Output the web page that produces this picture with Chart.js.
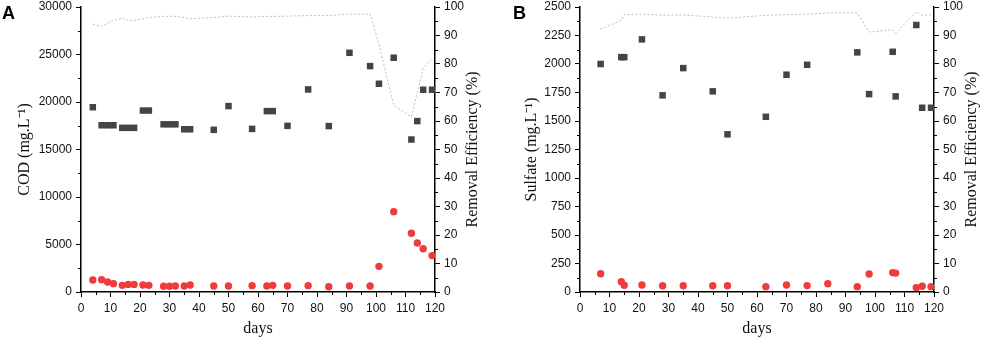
<!DOCTYPE html>
<html>
<head>
<meta charset="utf-8">
<script src="https://cdn.jsdelivr.net/npm/chart.js@4.4.1/dist/chart.umd.min.js"></script>
<style>
  html, body { margin: 0; padding: 0; background: #fff; }
  #wrap { position: relative; width: 982px; height: 339px; }
  canvas { position: absolute; top: 0; }
</style>
</head>
<body>
<div id="wrap">
  <canvas id="chartA" width="491" height="339" style="left:0"></canvas>
  <canvas id="chartB" width="491" height="339" style="left:491px"></canvas>
</div>
<script>
// Panel A: COD
const codDays = [4, 7, 9, 11, 14, 16, 18, 21, 23, 28, 30, 32, 35, 37, 45, 50, 58, 63, 65, 70, 77, 84, 91, 98, 101, 106, 112, 114, 116, 119];
const codIn = [19450, 17550, 17550, 17550, 17280, 17280, 17280, 19100, 19100, 17650, 17650, 17650, 17130, 17130, 17070, 19570, 17170, 19040, 19040, 17490, 21320, 17460, 25180, 23780, 21920, 24660, 16050, 17990, 21290, 21290];
const codOut = [1260, 1300, 1050, 880, 700, 800, 800, 740, 700, 600, 600, 630, 630, 740, 630, 630, 670, 630, 700, 630, 670, 560, 630, 630, 2700, 8460, 6180, 5160, 4560, 3830];
const codEff = [94.0, 93.2, 94.3, 95.3, 96.1, 95.3, 95.3, 95.8, 96.3, 96.7, 96.8, 96.7, 96.3, 95.9, 96.3, 96.8, 96.5, 96.7, 96.7, 96.8, 97.0, 97.0, 97.5, 97.5, 87, 65.5, 61.5, 70, 78.5, 82];

// Panel B: sulfate
const sulInDays = [7, 14, 15, 21, 28, 35, 45, 50, 63, 70, 77, 94, 98, 106, 107, 114, 116, 119];
const sulIn = [2000, 2060, 2060, 2216, 1725, 1964, 1760, 1383, 1537, 1906, 1993, 2102, 1736, 2107, 1716, 2342, 1616, 1616];
const sulOutDays = [7, 14, 15, 21, 28, 35, 45, 50, 63, 70, 77, 84, 94, 98, 106, 107, 114, 116, 119];
const sulOut = [160, 90, 59, 61, 55, 55, 55, 55, 47, 61, 56, 73, 47, 158, 170, 166, 38, 50, 47];
const sulEff = [92.3, 95.3, 97.3, 97.5, 97.1, 97.2, 96.5, 96.1, 97.1, 97.3, 97.5, 97.9, 97.9, 91.2, 92.0, 90.8, 98.3, 97.1, 97.3];

const xTicks = { min: 0, max: 120, step: 10 };
const effTicks = { min: 0, max: 100, step: 10 };

const tickFont = { family: '"Liberation Sans", Arial, sans-serif', size: 12 };
// vertical axes: small line height so the plot box starts near the top edge
const yTickFont = { family: '"Liberation Sans", Arial, sans-serif', size: 12, lineHeight: 0.5 };
const titleFont = { family: '"Liberation Serif", "Times New Roman", serif', size: 16 };

function pts(xs, ys) {
    return xs.map((x, i) => ({ x: x, y: ys[i] }));
}

// short minor ticks half way between the labelled ones
const minorTicks = {
    id: 'minorTicks',
    afterDraw(chart) {
        const ctx = chart.ctx;
        ctx.save();
        ctx.strokeStyle = '#000';
        ctx.lineWidth = 1;
        Object.values(chart.scales).forEach(s => {
            const step = s.options.ticks.stepSize;
            if (!step) return;
            ctx.beginPath();
            for (let v = s.min + step / 2; v < s.max; v += step) {
                const p = Math.round(s.getPixelForValue(v)) + 0.5;
                if (s.axis === 'x') {
                    ctx.moveTo(p, s.top); ctx.lineTo(p, s.top + 3);
                } else if (s.position === 'left') {
                    ctx.moveTo(s.right, p); ctx.lineTo(s.right - 3, p);
                } else {
                    ctx.moveTo(s.left, p); ctx.lineTo(s.left + 3, p);
                }
            }
            ctx.stroke();
        });
        ctx.restore();
    }
};

// right axis title (reads bottom to top) and the panel letter
const extraText = {
    id: 'extraText',
    afterDraw(chart, args, opts) {
        const ctx = chart.ctx;
        const r = chart.scales.y1;
        ctx.save();
        ctx.fillStyle = '#111';
        ctx.font = '16px "Liberation Serif", "Times New Roman", serif';
        ctx.textAlign = 'center';
        ctx.textBaseline = 'middle';
        ctx.translate(r.left + 38, (r.top + r.bottom) / 2);
        ctx.rotate(-Math.PI / 2);
        ctx.fillText('Removal Efficiency (%)', 0, 0);
        ctx.restore();
        ctx.save();
        ctx.fillStyle = '#000';
        ctx.font = 'bold 18px "Liberation Sans", Arial, sans-serif';
        ctx.textBaseline = 'alphabetic';
        ctx.fillText(opts.letter, opts.letterX, 19);
        ctx.restore();
    }
};

function axisBase(min, max, step, font) {
    return {
        min: min,
        max: max,
        border: { display: true, color: '#000', width: 1.5 },
        grid: { drawOnChartArea: false, drawTicks: true, tickLength: 5, tickColor: '#000', tickWidth: 1 },
        ticks: {
            stepSize: step, autoSkip: false, maxRotation: 0, color: '#111', font: font, padding: 4,
            callback: v => String(v)
        }
    };
}

function buildChart(id, p) {
    const x = axisBase(xTicks.min, xTicks.max, xTicks.step, tickFont);
    x.title = { display: true, text: 'days', color: '#111', font: titleFont, padding: { top: 0, bottom: 1 } };
    x.afterFit = s => { s.height = 47; };

    const y = axisBase(0, p.yMax, p.yStep, yTickFont);
    y.position = 'left';
    y.title = { display: true, text: p.yTitle, color: '#111', font: titleFont, padding: { top: p.titlePad, bottom: 0 } };
    y.afterFit = s => { s.width = p.leftW; };

    const y1 = axisBase(effTicks.min, effTicks.max, effTicks.step, yTickFont);
    y1.position = 'right';
    y1.afterFit = s => { s.width = p.rightW; };

    new Chart(document.getElementById(id).getContext('2d'), {
        type: 'scatter',
        data: {
            datasets: [
                {
                    label: 'Removal Efficiency',
                    type: 'line',
                    data: pts(p.effDays, p.eff),
                    yAxisID: 'y1',
                    borderColor: '#bdbdbd',
                    borderWidth: 1,
                    borderDash: [2, 2],
                    pointRadius: 0,
                    tension: 0,
                    order: 3
                },
                {
                    label: 'Influent',
                    data: pts(p.inDays, p.inVals),
                    yAxisID: 'y',
                    pointStyle: 'rect',
                    pointRadius: 4.6,
                    backgroundColor: '#444444',
                    borderWidth: 0,
                    order: 2
                },
                {
                    label: 'Effluent',
                    data: pts(p.outDays, p.outVals),
                    yAxisID: 'y',
                    pointStyle: 'circle',
                    pointRadius: 3.7,
                    backgroundColor: '#ef3b3b',
                    borderWidth: 0,
                    order: 1
                }
            ]
        },
        options: {
            responsive: false,
            animation: false,
            layout: { padding: 0 },
            plugins: {
                legend: { display: false },
                tooltip: { enabled: false },
                extraText: { letter: p.letter, letterX: p.letterX }
            },
            scales: { x: x, y: y, y1: y1 }
        },
        plugins: [minorTicks, extraText]
    });
}

buildChart('chartA', {
    letter: 'A', letterX: 2,
    yTitle: 'COD (mg.L\u207B\u00B9)', yMax: 30000, yStep: 5000,
    leftW: 81, rightW: 56, titlePad: 15,
    inDays: codDays, inVals: codIn,
    outDays: codDays, outVals: codOut,
    effDays: codDays, eff: codEff
});

buildChart('chartB', {
    letter: 'B', letterX: 22,
    yTitle: 'Sulfate (mg.L\u207B\u00B9)', yMax: 2500, yStep: 250,
    leftW: 89, rightW: 48, titlePad: 31,
    inDays: sulInDays, inVals: sulIn,
    outDays: sulOutDays, outVals: sulOut,
    effDays: sulOutDays, eff: sulEff
});
</script>
</body>
</html>
